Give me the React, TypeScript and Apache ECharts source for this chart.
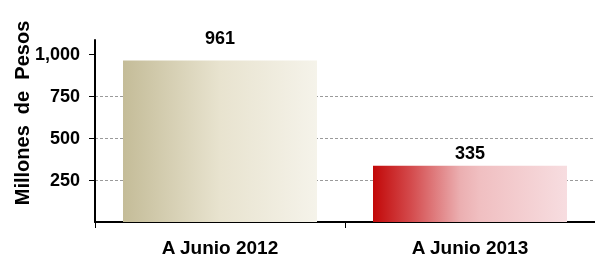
import React, { useEffect, useRef } from "react";
import * as echarts from "echarts";

const categories = ["A Junio 2012", "A Junio 2013"];
const values = [961, 335];
const yTicks = [0, 250, 500, 750, 1000];
const GAP = "\u00A0\u00A0";
const yTitle = ["Millones", "de", "Pesos"].join(GAP);

const FONT = "'Liberation Sans', Arial, Helvetica, sans-serif";

export default function App() {
  const ref = useRef<HTMLDivElement>(null);
  useEffect(() => {
    if (!ref.current) return;
    const chart = echarts.init(ref.current, null, { renderer: "svg" });
    const grad1 = new echarts.graphic.LinearGradient(0, 0, 1, 0, [
      { offset: 0, color: "#C4BC98" },
      { offset: 0.5, color: "#E8E3CF" },
      { offset: 1, color: "#F5F3EA" },
    ]);
    const grad2 = new echarts.graphic.LinearGradient(0, 0, 1, 0, [
      { offset: 0, color: "#C20808" },
      { offset: 0.2, color: "#D44C4E" },
      { offset: 0.45, color: "#EBAFB1" },
      { offset: 0.55, color: "#F0BFC1" },
      { offset: 1, color: "#F7DDE0" },
    ]);
    chart.setOption({
      animation: false,
      grid: { left: 95, right: 0, top: 40, bottom: 45 },
      xAxis: {
        type: "category",
        data: categories,
        boundaryGap: true,
        axisLine: { lineStyle: { color: "#000", width: 2 } },
        axisTick: { show: true, length: 6, lineStyle: { color: "#000", width: 1 } },
        axisLabel: {
          margin: 16,
          fontSize: 19,
          fontWeight: "bold",
          color: "#000",
          fontFamily: FONT,
        },
      },
      yAxis: {
        type: "value",
        min: 0,
        max: 1083,
        interval: 250,
        axisLine: { show: true, lineStyle: { color: "#000", width: 2 } },
        axisTick: {
          show: true,
          length: 6,
          customValues: yTicks,
          lineStyle: { color: "#000", width: 1 },
        },
        axisLabel: {
          customValues: yTicks,
          showMinLabel: false,
          margin: 15,
          fontSize: 18,
          fontWeight: "bold",
          color: "#000",
          fontFamily: FONT,
          formatter: (v: number) => (v === 0 ? "" : v.toLocaleString("en-US")),
        },
        splitLine: {
          show: true,
          showMinLine: false,
          showMaxLine: false,
          lineStyle: { color: "#9A9A9A", type: [3, 2], width: 1 },
        },
      },
      series: [
        {
          type: "bar",
          barWidth: 194,
          data: [
            {
              value: values[0],
              itemStyle: { color: grad1 },
              label: { distance: 14 },
            },
            {
              value: values[1],
              itemStyle: { color: grad2 },
              label: { distance: 4 },
            },
          ],
          label: {
            show: true,
            position: "top",
            fontSize: 18,
            fontWeight: "bold",
            color: "#000",
            fontFamily: FONT,
          },
        },
      ],
      graphic: [
        {
          type: "text",
          x: 22,
          y: 113,
          rotation: Math.PI / 2,
          style: {
            text: yTitle,
            fontSize: 20,
            fontWeight: "bold",
            fill: "#000",
            fontFamily: FONT,
            align: "center",
            verticalAlign: "middle",
          },
        },
      ],
    });
    return () => chart.dispose();
  }, []);
  return (
    <div
      ref={ref}
      style={{ position: "fixed", left: 0, top: 0, width: 595, height: 267 }}
    />
  );
}
